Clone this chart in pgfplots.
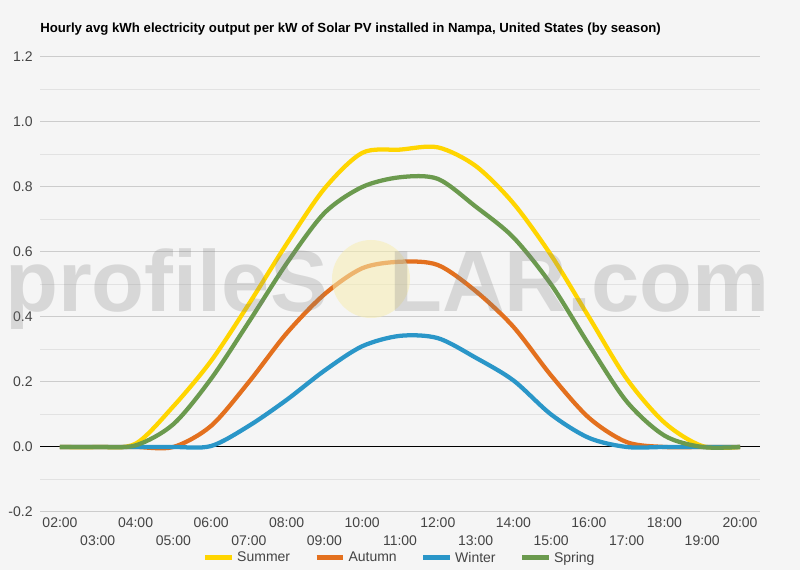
\documentclass[border=0pt]{standalone}
\usepackage{fontspec}
\setmainfont{Liberation Sans}
\usepackage{pgfplots}
\pgfplotsset{compat=1.18}
\definecolor{bg}{HTML}{F5F5F5}
\definecolor{summer}{HTML}{FFD500}
\definecolor{autumn}{HTML}{E3701E}
\definecolor{winter}{HTML}{2A96C8}
\definecolor{spring}{HTML}{6B9A4E}
\definecolor{gridmaj}{HTML}{CCCCCC}
\definecolor{gridmin}{HTML}{E2E2E2}
\definecolor{ticktxt}{HTML}{444444}
\definecolor{sun}{HTML}{F7EDB0}

\begin{document}
\begin{tikzpicture}[x=0.75pt,y=0.75pt]
% one unit = one pixel of the 800x570 reference, y counted upwards
\fill[bg] (0,0) rectangle (800,570);
\useasboundingbox (0,0) rectangle (800,570);

\node[anchor=base west, inner sep=0pt, font=\bfseries\fontsize{9.9}{11}\selectfont]
  at (40,537) {Hourly avg kWh electricity output per kW of Solar PV installed in Nampa, United States (by season)};

\begin{axis}[
    at={(30pt,43.5pt)}, anchor=south west,
    scale only axis, width=540pt, height=341.25pt,
    xmin=1.471, xmax=20.529, ymin=-0.2, ymax=1.2,
    axis line style={draw=none},
    tick style={draw=none},
    ytick={-0.2,0,0.2,0.4,0.6,0.8,1.0,1.2},
    yticklabels={-0.2,0.0,0.2,0.4,0.6,0.8,1.0,1.2},
    minor ytick={-0.1,0.1,0.3,0.5,0.7,0.9,1.1},
    ymajorgrids, yminorgrids,
    major grid style={gridmaj, line width=0.75pt},
    minor grid style={gridmin, line width=0.75pt},
    extra y ticks={0}, extra y tick labels={},
    extra y tick style={grid=major, major grid style={black, line width=0.75pt}},
    xtick={2,4,...,20},
    xticklabels={02:00,04:00,06:00,08:00,10:00,12:00,14:00,16:00,18:00,20:00},
    extra x ticks={3,5,...,19},
    extra x tick labels={03:00,05:00,07:00,09:00,11:00,13:00,15:00,17:00,19:00},
    extra x tick style={xticklabel style={yshift=-13.5pt}},
    ticklabel style={font=\fontsize{10.5}{12}\selectfont, text=ticktxt},
    xticklabel style={anchor=north, yshift=-1pt},
    yticklabel style={anchor=east, xshift=-2pt},
    legend style={at={(0.5,-0.101)}, anchor=center, legend columns=4,
        draw=none, fill=none, font=\fontsize{10.5}{12}\selectfont, text=ticktxt,
        /tikz/every even column/.append style={column sep=16pt}},
    legend image code/.code={\draw[#1, line width=3.8pt] (0pt,0pt) -- (20pt,0pt);},
    every axis plot/.append style={line width=3.2pt, smooth, line join=round},
]
\addplot[summer] coordinates {
 (2,0) (3,0) (4,0.01) (5,0.125) (6,0.265) (7,0.44) (8,0.625) (9,0.795) (10,0.905)
 (11,0.915) (12,0.922) (13,0.865) (14,0.75) (15,0.59) (16,0.40) (17,0.21) (18,0.075)
 (19,0.003) (20,0)};
\addlegendentry{Summer}
\addplot[autumn] coordinates {
 (2,0) (3,0) (4,0) (5,0) (6,0.065) (7,0.20) (8,0.35) (9,0.47) (10,0.55)
 (11,0.57) (12,0.56) (13,0.48) (14,0.37) (15,0.22) (16,0.09) (17,0.015) (18,0)
 (19,0) (20,0)};
\addlegendentry{Autumn}
\addplot[winter] coordinates {
 (2,0) (3,0) (4,0) (5,0) (6,0.003) (7,0.065) (8,0.145) (9,0.235) (10,0.31)
 (11,0.342) (12,0.335) (13,0.275) (14,0.205) (15,0.10) (16,0.028) (17,0) (18,0)
 (19,0) (20,0)};
\addlegendentry{Winter}
\addplot[spring] coordinates {
 (2,0) (3,0) (4,0.005) (5,0.07) (6,0.21) (7,0.385) (8,0.565) (9,0.72) (10,0.80)
 (11,0.83) (12,0.825) (13,0.74) (14,0.645) (15,0.50) (16,0.315) (17,0.14) (18,0.035)
 (19,0) (20,0)};
\addlegendentry{Spring}
\end{axis}

% watermark
\fill[sun, opacity=0.55] (371,291) circle (39);
\node[anchor=base west, inner sep=0pt, text=gray, text opacity=0.25,
      font=\bfseries\fontsize{65}{65}\selectfont] at (5,258) {profileS};
\node[anchor=base east, inner sep=0pt, text=gray, text opacity=0.25,
      font=\bfseries\fontsize{65}{65}\selectfont] at (770,258) {LAR.com};
\end{tikzpicture}
\end{document}
